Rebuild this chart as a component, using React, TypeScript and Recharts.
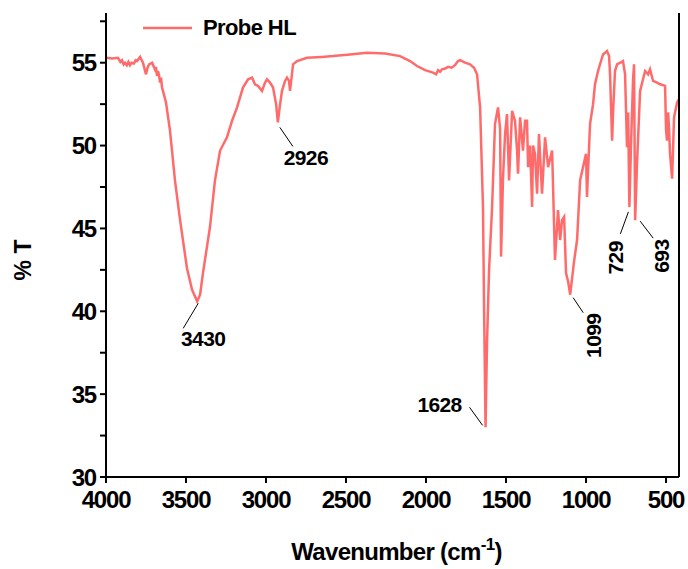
import { LineChart, Line, XAxis, YAxis, ReferenceDot } from 'recharts'

// FTIR spectrum of probe HL
const wavenumber = [
  4000, 3960, 3925, 3910, 3900, 3890, 3881, 3870, 3860, 3850, 3840, 3825, 3815, 3806, 3787, 3769, 3750, 3740, 3731,
  3712, 3694, 3688, 3681, 3675, 3670, 3662, 3656, 3650, 3644, 3625, 3600, 3569, 3537, 3494, 3462, 3430, 3412, 3394,
  3350, 3319, 3287, 3244, 3212, 3181, 3144, 3112, 3087, 3069, 3050, 3025, 3006, 2994, 2975, 2956,
  2937, 2926, 2912, 2900, 2881, 2869, 2856, 2850, 2844, 2831, 2806, 2744, 2650, 2581, 2475, 2369,
  2256, 2162, 2100, 2056, 2006, 1956, 1937, 1925, 1912, 1900, 1880, 1862, 1840, 1819, 1800, 1787,
  1756, 1725, 1700, 1681, 1662, 1644, 1637, 1628, 1619, 1606, 1587, 1569, 1550, 1537, 1531, 1519,
  1506, 1494, 1481, 1462, 1444, 1431, 1425, 1412, 1394, 1381, 1369, 1362, 1350, 1337, 1331, 1319,
  1306, 1294, 1275, 1256, 1237, 1212, 1194, 1175, 1162, 1150, 1137, 1125, 1112, 1099, 1075, 1056,
  1037, 1019, 1000, 994, 975, 956, 944, 925, 894, 869, 856, 850, 837, 831, 819, 806, 787, 769, 756,
  744, 737, 729, 719, 706, 700, 693, 681, 662, 631, 612, 600, 581, 556, 537, 506, 500, 494, 487,
  481, 475, 462, 450, 431, 419,
]
const transmittance = [
  55.3, 55.25, 55.3, 55.05, 55.15, 54.9, 55.0, 54.85, 55.05, 54.85, 55.0, 54.95, 55.15, 55.1, 55.35, 55.0, 54.3, 54.7, 54.9,
  55.0, 54.6, 54.75, 54.2, 54.5, 54.3, 53.8, 54.1, 53.5, 53.3, 52.6, 50.9, 47.9, 45.5, 42.6, 41.3, 40.6, 41.0, 42.3,
  45.1, 47.9, 49.7, 50.5, 51.5, 52.3, 53.5, 54.0, 54.1, 53.7, 53.6, 53.3, 53.8, 54.0, 53.8, 53.5,
  52.5, 51.4, 52.5, 53.3, 53.9, 54.1, 53.9, 53.3, 53.8, 54.9, 55.1, 55.3, 55.35, 55.4, 55.5, 55.6,
  55.55, 55.4, 55.1, 54.8, 54.55, 54.4, 54.3, 54.55, 54.45, 54.6, 54.65, 54.75, 54.7, 54.85, 55.1, 55.15,
  55.0, 54.9, 54.7, 54.3, 52.3, 46.3, 40.0, 33.0, 38.0, 42.5, 46.3, 51.3, 52.3, 51.0, 43.3, 48.0,
  50.7, 51.9, 47.9, 52.1, 51.5, 49.7, 48.3, 51.7, 49.7, 51.5, 51.5, 48.7, 50.0, 46.3, 50.0, 49.5,
  47.1, 50.7, 47.1, 50.5, 48.7, 49.7, 43.1, 46.1, 44.3, 45.5, 45.7, 42.3, 41.8, 41.0, 43.0, 44.3,
  47.9, 48.7, 49.5, 46.9, 51.3, 52.5, 53.7, 54.5, 55.5, 55.7, 55.4, 54.3, 50.3, 52.0, 54.5, 54.9, 55.0, 55.1, 54.3,
  49.9, 52.0, 46.3, 50.0, 54.0, 54.9, 45.5, 49.0, 53.3, 54.5, 54.3, 54.6, 53.9, 53.8, 53.7, 53.6, 51.0, 50.3, 52.0,
  51.0, 49.5, 48.0, 51.7, 52.6, 52.8,
]

const peakWn = [3430, 2926, 1628, 1099, 729, 693]
const peakT = [40.6, 51.4, 33.0, 41.0, 46.3, 45.5]
const peakLabels = ['3430', '2926', '1628', '1099', '729', '693']

const xTicks = [4000, 3500, 3000, 2500, 2000, 1500, 1000, 500]
const yTicks = [30, 32.5, 35, 37.5, 40, 42.5, 45, 47.5, 50, 52.5, 55, 57.5]

const seriesName = 'Probe HL'

const rows = wavenumber.map((wn, i) => ({ wn, t: transmittance[i] }))

// leader line and label offsets (px) from each peak
const leaders = [
  { x1: 1, y1: 2, x2: -14, y2: 27, tx: 6, ty: 37, rot: false },
  { x1: 2, y1: 5, x2: 15, y2: 24, tx: 28, ty: 35, rot: false },
  { x1: -3, y1: -2, x2: -16, y2: -20, tx: -46, ty: -23, rot: false },
  { x1: 3, y1: 3, x2: 13, y2: 18, tx: 23, ty: 41, rot: true },
  { x1: -1, y1: 5, x2: -9, y2: 27, tx: -14, ty: 51, rot: true },
  { x1: 5, y1: 1, x2: 18, y2: 18, tx: 26, ty: 36, rot: true },
]

const font = 'Liberation Sans, Arial, sans-serif'
const red = '#ff6b6b'

const blank = () => <g />

export default function App() {
  return (
    <div style={{ position: 'absolute', left: 0, top: 0, width: 688, height: 569 }}>
      <LineChart width={688} height={569} data={rows} margin={{ top: 13, right: 0, bottom: 0, left: 0 }}>
        <XAxis
          dataKey="wn"
          type="number"
          domain={[419, 4000]}
          reversed
          ticks={xTicks}
          height={92}
          stroke="#000"
          strokeWidth={2}
          tickSize={6}
          tickMargin={8}
          tick={{ fill: '#000', fontSize: 24, fontWeight: 700, fontFamily: font, letterSpacing: -1.2 }}
          label={{
            content: ({ viewBox }: any) => (
              <text
                x={viewBox.x + viewBox.width / 2 + 4}
                y={viewBox.y + 83}
                textAnchor="middle"
                fontFamily={font}
                fontWeight={700}
                fontSize={24}
                letterSpacing={-0.7}
                fill="#000"
              >
                Wavenumber (cm
                <tspan dy={-10} fontSize={17}>-1</tspan>
                <tspan dy={10}>)</tspan>
              </text>
            ),
          }}
        />
        <XAxis
          xAxisId="top"
          dataKey="wn"
          type="number"
          orientation="top"
          domain={[419, 4000]}
          reversed
          ticks={xTicks}
          height={0}
          stroke="#000"
          strokeWidth={2}
          tickSize={3}
          tick={blank}
        />
        <YAxis
          type="number"
          domain={[30, 58]}
          ticks={yTicks}
          width={106}
          stroke="#000"
          strokeWidth={2}
          tickSize={6}
          tickMargin={4}
          tickFormatter={(v: number) => (v % 5 === 0 ? String(v) : '')}
          tick={{ fill: '#000', fontSize: 24, fontWeight: 700, fontFamily: font, letterSpacing: -1.2 }}
          label={{
            content: () => (
              <text
                x={23}
                y={260}
                transform="rotate(-90, 23, 260)"
                textAnchor="middle"
                dominantBaseline="central"
                fontFamily={font}
                fontWeight={700}
                fontSize={23}
                fill="#000"
              >
                % T
              </text>
            ),
          }}
        />
        <YAxis
          yAxisId="right"
          orientation="right"
          type="number"
          domain={[30, 58]}
          ticks={yTicks}
          width={9}
          stroke="#000"
          strokeWidth={2}
          tickSize={3}
          tick={blank}
        />
        <Line
          type="linear"
          dataKey="t"
          name={seriesName}
          stroke={red}
          strokeWidth={2.5}
          dot={false}
          isAnimationActive={false}
        />
        {peakWn.map((wn, i) => {
          const l = leaders[i]
          return (
            <ReferenceDot
              key={peakLabels[i]}
              x={wn}
              y={peakT[i]}
              r={0}
              ifOverflow="visible"
              shape={(p: any) => {
                const tx = p.cx + l.tx
                const ty = p.cy + l.ty
                return (
                  <g>
                    <line x1={p.cx + l.x1} y1={p.cy + l.y1} x2={p.cx + l.x2} y2={p.cy + l.y2} stroke="#000" strokeWidth={1} />
                    <text
                      x={tx}
                      y={ty}
                      transform={l.rot ? `rotate(-90, ${tx}, ${ty})` : undefined}
                      textAnchor="middle"
                      dominantBaseline="central"
                      fontFamily={font}
                      fontWeight={700}
                      fontSize={21}
                      letterSpacing={-0.6}
                      fill="#000"
                    >
                      {peakLabels[i]}
                    </text>
                  </g>
                )
              }}
            />
          )
        })}
      </LineChart>
      {/* legend, top-left inside the frame */}
      <div style={{ position: 'absolute', top: 16, left: 143, display: 'flex', alignItems: 'center', fontFamily: font }}>
        <svg width={50} height={4}>
          <line x1={0} y1={2} x2={49} y2={2} stroke={red} strokeWidth={2.5} />
        </svg>
        <span style={{ marginLeft: 10, fontSize: 22, fontWeight: 700, letterSpacing: -0.6, lineHeight: '24px' }}>
          {seriesName}
        </span>
      </div>
    </div>
  )
}
